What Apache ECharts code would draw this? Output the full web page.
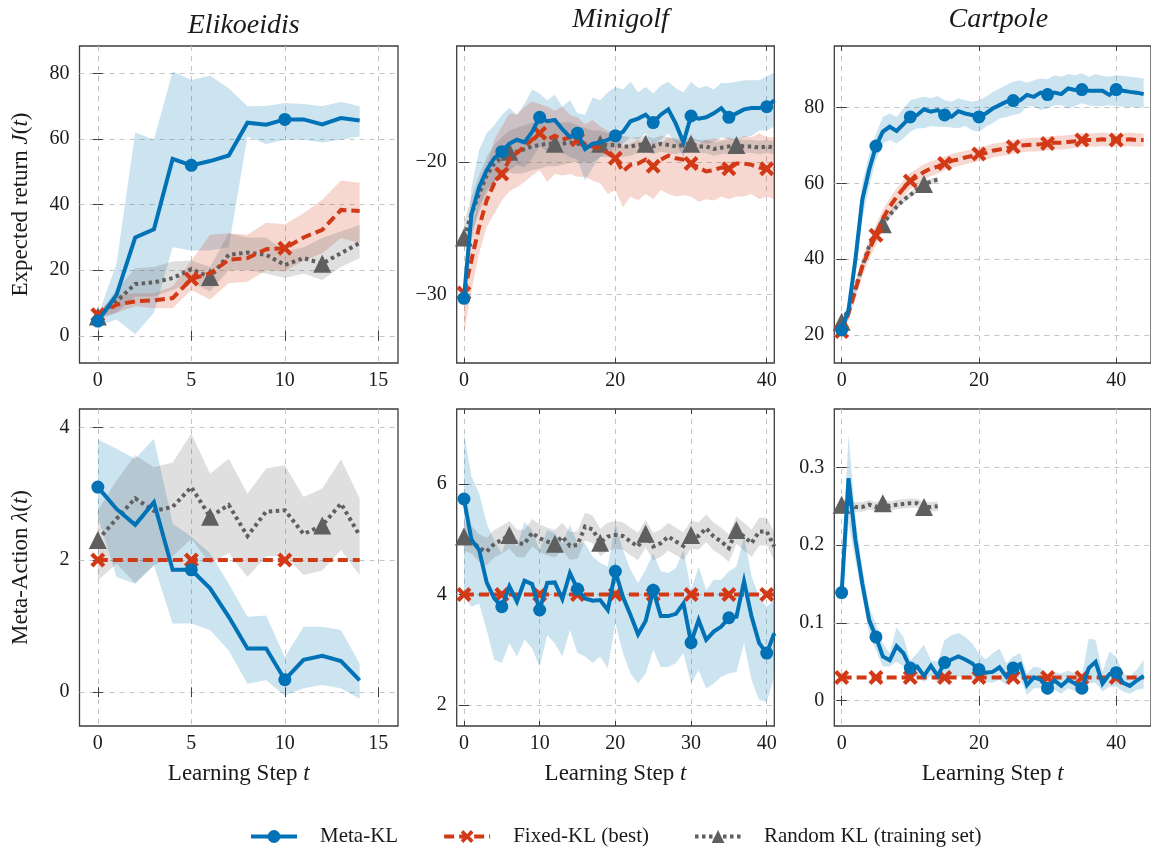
<!DOCTYPE html>
<html>
<head>
<meta charset="utf-8">
<script src="https://cdn.jsdelivr.net/npm/echarts@6/dist/echarts.min.js"></script>
<style>
html,body{margin:0;padding:0;background:#fff;}
#chart{width:1151px;height:848px;}
</style>
</head>
<body>
<div id="chart"></div>
<script>
// ---------- tick labels / titles ----------
const panelTitles = ['Elikoeidis', 'Minigolf', 'Cartpole'];
const seriesNames = ['Meta-KL', 'Fixed-KL (best)', 'Random KL (training set)'];
const ticksX_elik = [0, 5, 10, 15];
const ticksX_golfTop = [0, 20, 40];
const ticksX_golfBottom = [0, 10, 20, 30, 40];
const ticksX_cart = [0, 20, 40];
const ticksY_elikJ = [0, 20, 40, 60, 80];
const ticksY_golfJ = [-30, -20];
const ticksY_cartJ = [20, 40, 60, 80];
const ticksY_elikL = [0, 2, 4];
const ticksY_golfL = [2, 4, 6];
const ticksY_cartL = [0, 0.1, 0.2, 0.3];

// ---------- steps ----------
const steps15 = [0,1,2,3,4,5,6,7,8,9,10,11,12,13,14];
const steps42 = [0,1,2,3,4,5,6,7,8,9,10,11,12,13,14,15,16,17,18,19,20,21,22,23,24,25,26,27,28,29,30,31,32,33,34,35,36,37,38,39,40,41];
const steps45 = [0,1,2,3,4,5,6,7,8,9,10,11,12,13,14,15,16,17,18,19,20,21,22,23,24,25,26,27,28,29,30,31,32,33,34,35,36,37,38,39,40,41,42,43,44];

// ---------- Elikoeidis: expected return ----------
const elikJ_meta   = [4.5,12.5,30,32.5,54,52,53.3,55,65,64.4,66,66,64.5,66.4,65.7];
const elikJ_metaHi = [6,22,62,59.8,80.6,78,79.3,75.5,70,70.1,71,70.7,70,71.4,70];
const elikJ_metaLo = [3,5,0.5,7,27,26,26,27,60.8,58.5,59.8,59.8,59,59.8,60.8];
const elikJ_fixed   = [6.4,9.5,10.5,10.8,11.5,17.3,19,23.2,23.7,26.4,26.7,30,32.3,38.4,38.1];
const elikJ_fixedHi = [7,12.5,13,13,15,23,30.8,31.3,30.8,34.5,34,37.4,41.5,47.4,46.7];
const elikJ_fixedLo = [5.5,7,9,8.4,8.4,14,11,16,16.5,20,19.6,23,25.2,29.8,28.3];
const elikJ_rand   = [5.9,10.5,15.8,16.3,17.6,20.3,17.9,24.7,25.4,24.7,21.6,23.7,22,25.2,28.3];
const elikJ_randHi = [6.5,14,20.6,21,22.7,23,21,31.3,30,30,25.7,27,29.8,31.8,33.8];
const elikJ_randLo = [5,7,12,12,14,16.3,13.5,20,20,19,17.6,19,17,21,23.7];

// ---------- Minigolf: expected return ----------
const golfJ_meta   = [-30.3,-23.9,-21.9,-20.6,-19.7,-19.2,-18.6,-18.3,-18.5,-17.7,-16.6,-16.9,-16.8,-17.5,-18.1,-17.8,-19.0,-18.6,-18.5,-18.3,-18.0,-17.7,-16.9,-16.7,-16.4,-17.0,-16.4,-16.0,-17.1,-18.5,-16.5,-16.7,-16.6,-16.3,-15.9,-16.6,-16.3,-16.0,-15.9,-15.9,-15.8,-15.3];
const golfJ_metaHi = [-29,-21.9,-19.1,-17.8,-17.2,-16.4,-15.9,-16.4,-15.6,-14.5,-14.8,-15.3,-14.9,-15.8,-15.3,-16.3,-16.4,-15.1,-15.3,-14.7,-14.3,-14.5,-13.9,-14.7,-14.3,-14.8,-14.2,-13.9,-14.4,-14.7,-13.9,-14.4,-14.2,-14.5,-14.0,-14.0,-13.9,-13.8,-13.8,-13.8,-13.5,-13.2];
const golfJ_metaLo = [-31,-25.9,-23.4,-22.1,-21.5,-21.1,-20.6,-20.2,-20.4,-19.7,-18.8,-19.2,-18.8,-19.3,-19.6,-19.8,-21.4,-20.4,-19.6,-19.3,-18.8,-18.6,-18.1,-18.3,-17.8,-18.8,-18.3,-17.8,-18.6,-19.6,-18.3,-18.5,-18.6,-18.5,-18.1,-18.3,-18.3,-18.1,-18.0,-17.6,-17.6,-17.3];
const golfJ_fixed   = [-29.9,-27.4,-24.9,-22.9,-21.6,-20.9,-19.8,-19.3,-18.8,-18.3,-17.8,-18.3,-18.0,-18.3,-18.1,-18.3,-18.6,-18.8,-19.0,-19.3,-19.7,-20.7,-20.2,-20.1,-19.8,-20.3,-19.8,-19.5,-19.7,-19.8,-20.1,-20.4,-20.7,-20.6,-20.4,-20.5,-20.1,-20.1,-20.2,-20.4,-20.5,-20.5];
const golfJ_fixedHi = [-28.5,-25.4,-22.6,-20.4,-18.3,-17.3,-16.3,-16.4,-15.8,-15.4,-15.6,-15.8,-16.1,-15.8,-16.4,-16.6,-17.1,-16.8,-17.3,-17.6,-17.8,-18.8,-18.6,-18.3,-18.6,-18.5,-18.6,-18.1,-18.3,-18.5,-18.3,-18.6,-18.3,-18.2,-18.3,-18.1,-18.3,-18.0,-18.1,-17.8,-18.1,-18.1];
const golfJ_fixedLo = [-33,-29.7,-26.9,-24.9,-23.9,-22.9,-22.2,-21.9,-21.5,-21.0,-20.6,-21.5,-20.9,-21.0,-20.9,-21.1,-21.1,-21.4,-21.6,-22.4,-22.1,-23.4,-22.6,-22.9,-22.4,-22.8,-22.1,-22.4,-22.6,-22.5,-22.6,-23.0,-22.8,-22.9,-22.6,-22.8,-22.6,-22.6,-22.4,-22.8,-22.6,-22.8];
const golfJ_rand   = [-25.7,-23.9,-22.4,-21.0,-20.1,-19.6,-19.2,-19.2,-19.0,-18.8,-18.7,-18.6,-18.6,-18.6,-18.5,-18.6,-18.7,-18.8,-18.6,-18.7,-18.7,-18.8,-18.8,-18.7,-18.6,-18.8,-18.6,-18.7,-18.8,-18.7,-18.6,-18.8,-18.8,-19.0,-18.9,-18.8,-18.7,-18.8,-18.8,-18.9,-18.8,-18.9];
const golfJ_randHi = [-24.6,-22.6,-21.0,-19.6,-18.7,-18.1,-17.6,-17.4,-17.2,-17.0,-16.9,-16.9,-16.9,-17.0,-17.0,-17.2,-17.4,-17.6,-17.6,-17.8,-17.9,-18.0,-18.1,-18.1,-18.0,-18.2,-18.0,-18.1,-18.2,-18.2,-18.1,-18.3,-18.3,-18.5,-18.4,-18.3,-18.2,-18.3,-18.3,-18.4,-18.3,-18.4];
const golfJ_randLo = [-26.8,-25.2,-23.8,-22.4,-21.5,-21.1,-20.8,-20.9,-20.8,-20.6,-20.5,-20.3,-20.3,-20.2,-20.0,-20.0,-20.0,-20.0,-19.6,-19.6,-19.5,-19.6,-19.5,-19.3,-19.2,-19.4,-19.2,-19.3,-19.4,-19.2,-19.1,-19.3,-19.3,-19.5,-19.4,-19.3,-19.2,-19.3,-19.3,-19.4,-19.3,-19.4];

// ---------- Cartpole: expected return ----------
const cartJ_meta   = [21.3,26.6,39.8,55.6,63.5,69.8,73.6,74.9,73.8,75.6,77.5,78.0,79.5,78.9,79.3,78.0,77.5,79.0,78.4,78.0,77.5,78.4,79.7,80.6,81.5,81.8,81.9,83.3,82.8,83.9,83.4,83.9,83.5,85.0,84.6,84.7,84.4,84.4,84.4,83.3,84.7,84.4,84.1,83.9,83.5];
const cartJ_metaHi = [22.5,28.5,44,60,67.5,73,77.5,78.4,77.5,79.7,81.9,82.4,82.8,82.4,83,81.9,81.5,82.4,81.9,81.5,81.9,82.8,84.1,85.0,85.9,86.8,87.2,86.5,87.2,87.6,87.4,88.5,88.1,88.8,88.5,89.0,88.1,88.8,88.3,88.1,88.5,88.3,88.1,87.9,87.6];
const cartJ_metaLo = [20,24.5,35.5,50.5,59,66.1,70.5,71.4,70.5,71.8,73.6,74.5,74.5,75.1,74.9,74.9,74.7,74.5,75.1,74.0,73.6,74.9,75.8,77.1,77.5,78.0,78.4,80.4,80.2,79.3,79.7,80.6,80.6,79.7,80.4,81.1,80.6,80.4,80.4,80.6,80.4,80.2,80.0,80.0,80.0];
const cartJ_fixed   = [20.9,25.7,31.8,38.0,42.4,46.3,50.7,53.8,56.4,58.6,60.6,61.7,63.0,63.9,64.4,65.2,65.9,66.3,66.8,67.2,67.7,68.0,68.6,68.9,69.2,69.6,69.9,70.1,70.2,70.3,70.5,70.7,70.7,70.9,71.1,71.4,71.4,71.4,71.6,71.4,71.4,71.4,71.6,71.4,71.4];
const cartJ_fixedHi = [22,27.5,34,40.5,45,49,53,56,58.6,60.8,62.7,63.8,65,65.8,66.3,67,67.7,68.1,68.6,69,69.5,69.8,70.4,70.7,71,71.4,71.7,71.9,72,72.1,72.3,72.5,72.5,72.7,72.9,73.2,73.2,73.2,73.4,73.2,73.2,73.2,73.4,73.2,73.2];
const cartJ_fixedLo = [19.8,23.9,29.6,35.5,39.8,43.6,48.4,51.6,54.2,56.4,58.5,59.6,61,61.9,62.5,63.4,64.1,64.5,65,65.4,65.9,66.2,66.8,67.1,67.4,67.8,68.1,68.3,68.4,68.5,68.7,68.9,68.9,69.1,69.3,69.6,69.6,69.6,69.8,69.6,69.6,69.6,69.8,69.6,69.6];
const cartJ_rand   = [23.5,26.6,32.3,38.0,43.3,46.8,49.2,51.6,53.8,55.6,56.9,58.4,59.8,60.4,61.0];
const cartJ_randHi = [24.3,27.5,33.2,38.9,44.1,47.6,50.0,52.4,54.6,56.4,57.7,59.2,60.6,61.2,61.8];
const cartJ_randLo = [22.7,25.7,31.4,37.1,42.5,46.0,48.4,50.8,53.0,54.8,56.1,57.6,59.0,59.6,60.2];

// ---------- Elikoeidis: meta-action ----------
const elikL_meta   = [3.10,2.77,2.53,2.87,1.85,1.85,1.57,1.14,0.66,0.66,0.19,0.49,0.55,0.47,0.18];
const elikL_metaHi = [3.82,3.68,3.53,3.83,2.55,2.35,2.10,1.64,1.14,1.16,0.53,0.99,0.99,0.94,0.43];
const elikL_metaLo = [2.65,1.74,1.64,1.92,1.04,1.04,0.94,0.63,0.13,0.18,-0.05,0.06,0.11,0.06,-0.10];
const elikL_fixed  = [2,2,2,2,2,2,2,2,2,2,2,2,2,2,2];
const elikL_rand   = [2.30,2.62,2.93,2.74,2.80,3.10,2.65,2.83,2.36,2.73,2.75,2.39,2.52,2.85,2.37];
const elikL_randHi = [2.75,3.20,3.58,3.40,3.47,3.91,3.30,3.53,3.00,3.38,3.43,2.95,3.08,3.52,2.93];
const elikL_randLo = [1.69,1.94,1.65,1.92,2.05,2.32,1.94,2.10,1.74,2.05,2.07,1.77,1.84,2.15,1.77];

// ---------- Minigolf: meta-action ----------
const golfL_meta   = [5.73,4.99,4.81,4.22,3.93,3.78,4.15,3.87,4.25,4.19,3.72,4.21,4.22,3.92,4.39,4.10,3.93,3.89,3.90,3.72,4.42,3.96,3.63,3.28,3.52,4.08,3.61,3.61,3.65,3.84,3.13,3.54,3.18,3.33,3.42,3.58,3.60,4.24,3.60,3.12,2.94,3.30];
const golfL_metaHi = [6.92,6.14,5.84,5.29,4.99,4.75,5.17,4.87,5.32,5.17,4.81,5.17,5.11,4.93,5.26,4.93,4.93,4.69,4.57,4.51,5.29,4.81,4.45,4.21,4.45,4.75,4.42,4.39,4.48,4.81,4.08,4.51,4.08,4.27,4.27,4.42,4.51,5.05,4.33,3.96,3.78,3.90];
const golfL_metaLo = [3.96,3.78,3.84,3.36,2.82,2.76,3.12,2.88,3.18,3.03,2.69,3.27,3.12,2.88,3.36,2.94,2.88,2.76,2.88,2.66,3.48,2.94,2.57,2.39,2.57,3.00,2.69,2.69,2.76,2.94,2.39,2.63,2.30,2.39,2.51,2.57,2.60,3.12,2.45,2.09,2.06,2.51];
const golfL_fixed  = [4,4,4,4,4,4,4,4,4,4,4,4,4,4,4,4,4,4,4,4,4,4,4,4,4,4,4,4,4,4,4,4,4,4,4,4,4,4,4,4,4,4];
const golfL_rand   = [5.05,4.99,4.84,4.78,4.92,4.99,5.08,4.93,4.92,5.12,5.02,4.96,4.92,5.05,4.88,4.90,5.23,5.18,4.94,5.05,5.08,5.06,4.96,4.87,5.10,4.87,4.93,5.05,4.96,4.88,5.08,5.06,5.20,5.05,4.96,4.84,5.17,5.05,4.93,5.14,5.14,4.87];
const golfL_randHi = [5.30,5.24,5.09,5.03,5.17,5.24,5.33,5.18,5.17,5.37,5.27,5.21,5.17,5.30,5.13,5.15,5.48,5.43,5.19,5.30,5.33,5.31,5.21,5.12,5.35,5.12,5.18,5.30,5.21,5.13,5.33,5.31,5.45,5.30,5.21,5.09,5.42,5.30,5.18,5.39,5.39,5.12];
const golfL_randLo = [4.80,4.74,4.59,4.53,4.67,4.74,4.83,4.68,4.67,4.87,4.77,4.71,4.67,4.80,4.63,4.65,4.98,4.93,4.69,4.80,4.83,4.81,4.71,4.62,4.85,4.62,4.68,4.80,4.71,4.63,4.83,4.81,4.95,4.80,4.71,4.59,4.92,4.80,4.68,4.89,4.89,4.62];

// ---------- Cartpole: meta-action ----------
const cartL_meta   = [0.139,0.286,0.207,0.151,0.104,0.082,0.057,0.052,0.070,0.061,0.042,0.044,0.032,0.045,0.032,0.049,0.053,0.057,0.053,0.048,0.040,0.036,0.037,0.043,0.031,0.042,0.047,0.020,0.030,0.027,0.016,0.026,0.019,0.027,0.022,0.016,0.042,0.050,0.022,0.034,0.036,0.023,0.019,0.026,0.032];
const cartL_metaHi = [0.155,0.342,0.237,0.172,0.121,0.099,0.074,0.061,0.094,0.082,0.052,0.061,0.072,0.052,0.050,0.078,0.084,0.087,0.082,0.074,0.061,0.053,0.061,0.067,0.048,0.057,0.061,0.035,0.044,0.042,0.031,0.037,0.035,0.039,0.035,0.031,0.080,0.078,0.037,0.063,0.057,0.035,0.031,0.040,0.052];
const cartL_metaLo = [0.125,0.228,0.181,0.134,0.087,0.065,0.044,0.044,0.050,0.044,0.031,0.031,0.024,0.032,0.022,0.031,0.030,0.031,0.030,0.027,0.027,0.024,0.023,0.027,0.020,0.027,0.030,0.007,0.016,0.016,0.007,0.014,0.009,0.016,0.012,0.007,0.022,0.023,0.012,0.018,0.018,0.012,0.009,0.014,0.016];
const cartL_fixed  = [0.03,0.03,0.03,0.03,0.03,0.03,0.03,0.03,0.03,0.03,0.03,0.03,0.03,0.03,0.03,0.03,0.03,0.03,0.03,0.03,0.03,0.03,0.03,0.03,0.03,0.03,0.03,0.03,0.03,0.03,0.03,0.03,0.03,0.03,0.03,0.03,0.03,0.03,0.03,0.03,0.03,0.03,0.03,0.03,0.03];
const cartL_rand   = [0.252,0.254,0.249,0.249,0.252,0.249,0.254,0.250,0.252,0.253,0.254,0.254,0.249,0.249,0.250];
const cartL_randHi = [0.258,0.260,0.255,0.255,0.258,0.255,0.260,0.256,0.258,0.259,0.260,0.260,0.255,0.255,0.256];
const cartL_randLo = [0.246,0.248,0.243,0.243,0.246,0.243,0.248,0.244,0.246,0.247,0.248,0.248,0.243,0.243,0.244];

// ---------- styling ----------
const BLUE = '#0072b5', RED = '#d23a17', GRAY = '#5f5f5f';
const BLUE_BAND = 'rgba(0,114,181,0.2)', RED_BAND = 'rgba(210,58,23,0.2)', GRAY_BAND = 'rgba(80,80,80,0.18)';
const FONT = 'Liberation Serif';
const X_PATH = 'path://M0,2 L2,0 L5,3 L8,0 L10,2 L7,5 L10,8 L8,10 L5,7 L2,10 L0,8 L3,5 Z';

const grids = [
  {left: 79.5, top: 46, width: 318.5, height: 317},
  {left: 456.7, top: 46, width: 317.6, height: 317},
  {left: 834.3, top: 46, width: 318, height: 317},
  {left: 79.5, top: 409, width: 318.5, height: 317},
  {left: 456.7, top: 409, width: 317.6, height: 317},
  {left: 834.3, top: 409, width: 318, height: 317}
].map(g => Object.assign({show: true, borderColor: '#3d3d3d', borderWidth: 1.3, backgroundColor: 'transparent', containLabel: false}, g));

const xRanges = [[-0.98, 16.05], [-0.96, 41.0], [-1.07, 45.07], [-0.98, 16.05], [-0.96, 41.0], [-1.07, 45.07]];
const yRanges = [[-8.3, 88.4], [-35.2, -11.2], [12.6, 96.2], [-0.51, 4.28], [1.62, 7.36], [-0.0325, 0.375]];
const xTicks = [ticksX_elik, ticksX_golfTop, ticksX_cart, ticksX_elik, ticksX_golfBottom, ticksX_cart];
const yTicks = [ticksY_elikJ, ticksY_golfJ, ticksY_cartJ, ticksY_elikL, ticksY_golfL, ticksY_cartL];

const fmt = v => String(v).replace('-', '\u2212');
const splitStyle = {show: true, lineStyle: {color: '#c4c4c4', width: 1, type: [5, 5]}};
const tickStyle = {color: '#3d3d3d', width: 1};

const xAxes = grids.map((g, i) => ({
  type: 'value', gridIndex: i, min: xRanges[i][0], max: xRanges[i][1], position: 'bottom',
  axisLine: {show: false},
  axisTick: {show: true, inside: true, length: 5, customValues: xTicks[i], lineStyle: tickStyle},
  axisLabel: {customValues: xTicks[i], formatter: fmt, fontFamily: FONT, fontSize: 20, color: '#1a1a1a', margin: 8, showMinLabel: true, showMaxLabel: true},
  splitLine: splitStyle,
  name: i >= 3 ? 'Learning Step {i|t}' : '',
  nameLocation: 'middle', nameGap: 36,
  nameTextStyle: {fontFamily: FONT, fontSize: 23, color: '#1a1a1a', rich: {i: {fontFamily: FONT, fontSize: 23, fontStyle: 'italic', color: '#1a1a1a'}}}
})).concat(grids.map((g, i) => ({
  // mirrored ticks on the top edge
  type: 'value', gridIndex: i, min: xRanges[i][0], max: xRanges[i][1], position: 'top',
  axisLine: {show: false}, axisLabel: {show: false}, splitLine: {show: false},
  axisTick: {show: true, inside: true, length: 5, customValues: xTicks[i], lineStyle: tickStyle}
})));

const yNames = ['Expected return {i|J}({i|t})', '', '', 'Meta-Action {i|\u03bb}({i|t})', '', ''];
const yAxes = grids.map((g, i) => ({
  type: 'value', gridIndex: i, min: yRanges[i][0], max: yRanges[i][1], position: 'left',
  axisLine: {show: false},
  axisTick: {show: true, inside: true, length: 5, customValues: yTicks[i], lineStyle: tickStyle},
  axisLabel: {customValues: yTicks[i], formatter: fmt, fontFamily: FONT, fontSize: 20, color: '#1a1a1a', margin: 10},
  splitLine: splitStyle,
  name: yNames[i], nameLocation: 'middle', nameGap: 47,
  nameTextStyle: {fontFamily: FONT, fontSize: 23, color: '#1a1a1a', rich: {i: {fontFamily: FONT, fontSize: 23, fontStyle: 'italic', color: '#1a1a1a'}}}
})).concat(grids.map((g, i) => ({
  // mirrored ticks on the right edge
  type: 'value', gridIndex: i, min: yRanges[i][0], max: yRanges[i][1], position: 'right',
  axisLine: {show: false}, axisLabel: {show: false}, splitLine: {show: false},
  axisTick: {show: true, inside: true, length: 5, customValues: yTicks[i], lineStyle: tickStyle}
})));

function band(gi, xs, lo, hi, fill) {
  return {
    type: 'custom', xAxisIndex: gi, yAxisIndex: gi, silent: true, clip: true, z: 1,
    data: [[xs[0], lo[0]]],
    renderItem: function (params, api) {
      const pts = [];
      for (let k = 0; k < xs.length; k++) pts.push(api.coord([xs[k], hi[k]]));
      for (let k = xs.length - 1; k >= 0; k--) pts.push(api.coord([xs[k], lo[k]]));
      return {type: 'polygon', shape: {points: pts, smooth: 0}, style: {fill: fill}};
    }
  };
}

function line(gi, name, xs, ys, color, dash, symbol, size, every, z) {
  return {
    type: 'line', name: name, xAxisIndex: gi, yAxisIndex: gi,
    data: xs.map((x, k) => [x, ys[k]]),
    lineStyle: {color: color, width: 4, type: dash, cap: 'butt', join: 'miter'},
    itemStyle: {color: color, borderWidth: 0},
    symbol: symbol,
    symbolSize: function (v, p) { return p.dataIndex % every === 0 ? size : 0; },
    showAllSymbol: true, clip: true, z: z, silent: true
  };
}

function panel(gi, xsM, m, mLo, mHi, xsF, f, fLo, fHi, xsR, r, rLo, rHi) {
  const out = [];
  if (mLo) out.push(band(gi, xsM, mLo, mHi, BLUE_BAND));
  if (fLo) out.push(band(gi, xsF, fLo, fHi, RED_BAND));
  if (rLo) out.push(band(gi, xsR, rLo, rHi, GRAY_BAND));
  out.push(line(gi, seriesNames[2], xsR, r, GRAY, [3.5, 3.5], 'triangle', 18, 6, 3));
  out.push(line(gi, seriesNames[1], xsF, f, RED, [10, 5], X_PATH, 15, 5, 4));
  out.push(line(gi, seriesNames[0], xsM, m, BLUE, 'solid', 'circle', 13, 5, 5));
  return out;
}

const series = [].concat(
  panel(0, steps15, elikJ_meta, elikJ_metaLo, elikJ_metaHi, steps15, elikJ_fixed, elikJ_fixedLo, elikJ_fixedHi, steps15, elikJ_rand, elikJ_randLo, elikJ_randHi),
  panel(1, steps42, golfJ_meta, golfJ_metaLo, golfJ_metaHi, steps42, golfJ_fixed, golfJ_fixedLo, golfJ_fixedHi, steps42, golfJ_rand, golfJ_randLo, golfJ_randHi),
  panel(2, steps45, cartJ_meta, cartJ_metaLo, cartJ_metaHi, steps45, cartJ_fixed, cartJ_fixedLo, cartJ_fixedHi, steps15, cartJ_rand, cartJ_randLo, cartJ_randHi),
  panel(3, steps15, elikL_meta, elikL_metaLo, elikL_metaHi, steps15, elikL_fixed, null, null, steps15, elikL_rand, elikL_randLo, elikL_randHi),
  panel(4, steps42, golfL_meta, golfL_metaLo, golfL_metaHi, steps42, golfL_fixed, null, null, steps42, golfL_rand, golfL_randLo, golfL_randHi),
  panel(5, steps45, cartL_meta, cartL_metaLo, cartL_metaHi, steps45, cartL_fixed, null, null, steps15, cartL_rand, cartL_randLo, cartL_randHi)
);

const titleTops = [7, 1, 1];
const titles = panelTitles.map((t, i) => ({
  text: t, left: grids[i].left + grids[i].width / 2, top: titleTops[i], textAlign: 'center',
  textStyle: {fontFamily: FONT, fontSize: 28, fontStyle: 'italic', fontWeight: 'normal', color: '#1a1a1a'}
}));

const chart = echarts.init(document.getElementById('chart'), null, {renderer: 'canvas'});
chart.setOption({
  animation: false,
  backgroundColor: '#ffffff',
  title: titles,
  grid: grids,
  xAxis: xAxes,
  yAxis: yAxes,
  legend: {
    data: seriesNames, left: 244, top: 821, itemWidth: 46, itemHeight: 16, itemGap: 44,
    lineStyle: {width: 4},
    textStyle: {fontFamily: FONT, fontSize: 21, color: '#1a1a1a', padding: [0, 0, 0, 18]},
    selectedMode: false
  },
  series: series
});
</script>
</body>
</html>
